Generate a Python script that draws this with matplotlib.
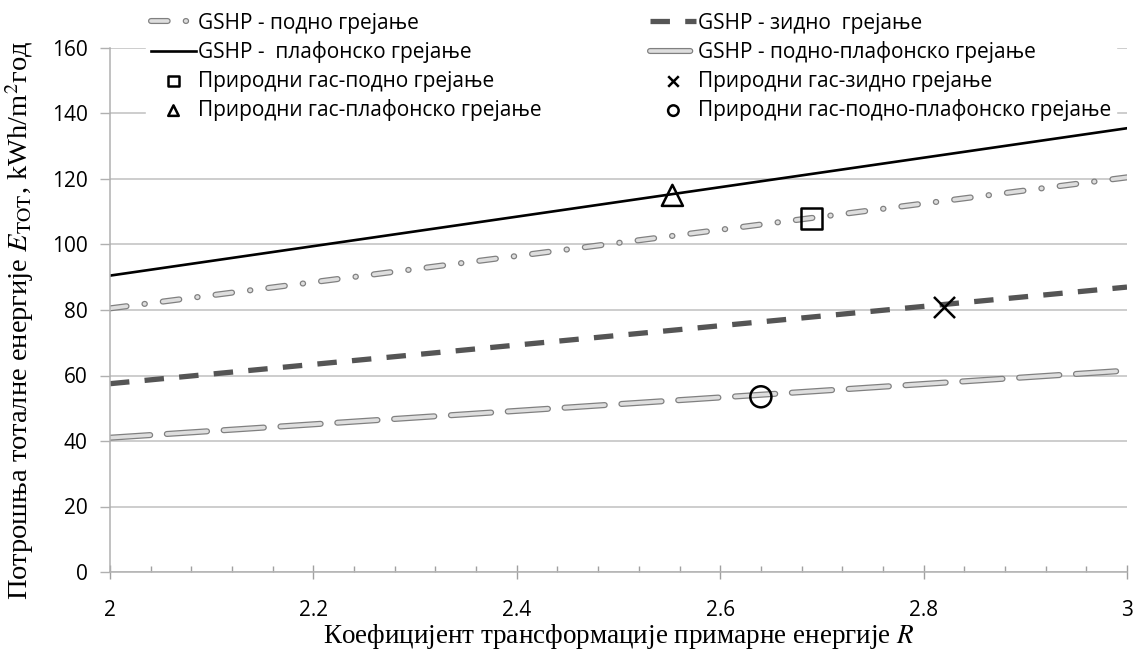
import matplotlib
matplotlib.use("Agg")
import matplotlib.pyplot as plt
import matplotlib.patheffects as pe
import matplotlib.ticker as ticker

# Data
r_vals = [2.0, 3.0]
gshp_floor = [80.5, 120.5]
gshp_wall = [57.5, 87.0]
gshp_ceiling = [90.5, 135.5]
gshp_floor_ceiling = [41.0, 61.5]

gas_r = [2.69, 2.82, 2.553, 2.64]
gas_e = [108.0, 81.0, 115.0, 53.5]
gas_markers = ["s", "x", "^", "o"]

labels = {
    "floor": "GSHP - подно грејање",
    "wall": "GSHP - зидно  грејање",
    "ceiling": "GSHP -  плафонско грејање",
    "floor_ceiling": "GSHP - подно-плафонско грејање",
    "gas_floor": "Природни гас-подно грејање",
    "gas_wall": "Природни гас-зидно грејање",
    "gas_ceiling": "Природни гас-плафонско грејање",
    "gas_floor_ceiling": "Природни гас-подно-плафонско грејање",
}

plt.rcParams["lines.scale_dashes"] = False
plt.rcParams["mathtext.fontset"] = "stix"
sans = ["Open Sans", "DejaVu Sans"]
serif = ["Liberation Serif", "DejaVu Serif"]

fig = plt.figure(figsize=(11.4, 6.57), dpi=100)
ax = fig.add_axes([110 / 1140, 1 - 572 / 657, 1017 / 1140, 524 / 657])

outline = [pe.Stroke(linewidth=4.4, foreground="#808080"), pe.Normal()]

(l_floor,) = ax.plot(r_vals, gshp_floor, color="#dedede", lw=2.6,
                     dashes=(12, 13, 0.3, 13), solid_capstyle="round",
                     dash_capstyle="round", path_effects=outline)
(l_wall,) = ax.plot(r_vals, gshp_wall, color="#555555", lw=3.8,
                    dashes=(14, 11), dash_capstyle="butt")
(l_ceiling,) = ax.plot(r_vals, gshp_ceiling, color="black", lw=1.9)
(l_fc,) = ax.plot(r_vals, gshp_floor_ceiling, color="#dedede", lw=2.6,
                  dashes=(29, 12), dash_capstyle="round",
                  solid_capstyle="round", path_effects=outline)

gas_handles = []
for x, y, m in zip(gas_r, gas_e, gas_markers):
    if m == "x":
        h = ax.scatter([x], [y], marker=m, s=230, color="black", lw=1.8, zorder=5)
    else:
        h = ax.scatter([x], [y], marker=m, s=230, facecolor="none",
                       edgecolor="black", lw=1.8, zorder=5)
    gas_handles.append(h)

ax.set_xlim(2, 3)
ax.set_ylim(0, 160)
ax.xaxis.set_major_locator(ticker.MultipleLocator(0.2))
ax.xaxis.set_minor_locator(ticker.MultipleLocator(0.04))
ax.yaxis.set_major_locator(ticker.MultipleLocator(20))
ax.xaxis.set_major_formatter(ticker.FuncFormatter(lambda v, p: f"{v:g}"))

ax.grid(axis="y", color="#c0c0c0", lw=1.1)
ax.set_axisbelow(True)
for s in ["top", "right"]:
    ax.spines[s].set_visible(False)
for s in ["left", "bottom"]:
    ax.spines[s].set_color("#b0b0b0")
    ax.spines[s].set_linewidth(1.1)

ax.tick_params(axis="x", which="major", direction="inout", length=10,
               color="#a0a0a0", width=1, pad=15, labelsize=15)
ax.tick_params(axis="x", which="minor", direction="in", length=4.5,
               color="#a0a0a0", width=1)
ax.tick_params(axis="y", which="major", direction="out", length=7,
               color="#b0b0b0", width=1, pad=9, labelsize=15)
for t in ax.get_xticklabels() + ax.get_yticklabels():
    t.set_family(sans)

ax.set_xlabel("Коефицијент трансформације примарне енергије $R$",
              family=serif, fontsize=19.5, labelpad=1)
ax.set_ylabel("Потрошња тоталне енергије $E_{\\mathrm{TOT}}$, kWh/m$^{2}$год",
              family=serif, fontsize=20.5)
ax.yaxis.set_label_coords(-0.073, 0.48)

handles = [l_floor, l_ceiling, gas_handles[0], gas_handles[2],
           l_wall, l_fc, gas_handles[1], gas_handles[3]]
names = [labels["floor"], labels["ceiling"], labels["gas_floor"],
         labels["gas_ceiling"], labels["wall"], labels["floor_ceiling"],
         labels["gas_wall"], labels["gas_floor_ceiling"]]

leg = fig.legend(handles, names, ncol=2, loc="upper left",
                 bbox_to_anchor=(136 / 1140, 1.0 + 2 / 657), frameon=True,
                 facecolor="white", edgecolor="white", framealpha=1,
                 prop={"family": sans, "size": 15}, handlelength=2.2,
                 handletextpad=0.1, columnspacing=5.2, labelspacing=0.36,
                 borderpad=0.2, markerscale=0.5, fancybox=False)

fig.savefig("out.png", dpi=100)
